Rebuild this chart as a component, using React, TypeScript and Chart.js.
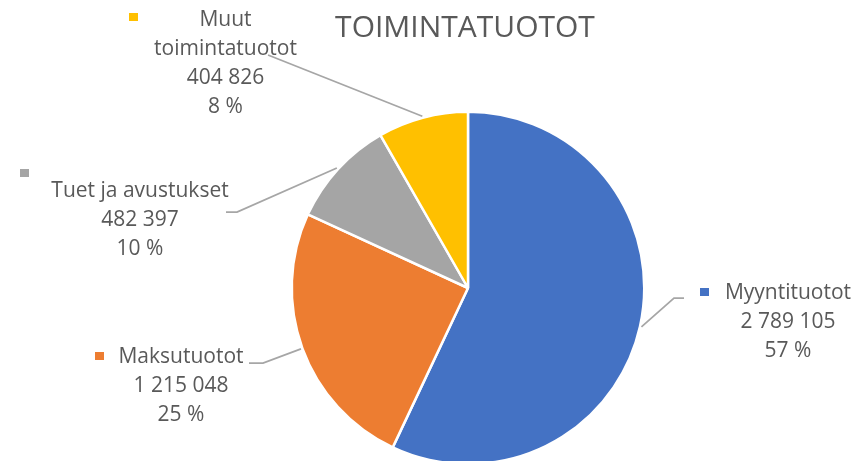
import React, { useEffect, useRef } from "react";
import { Chart, registerables } from "chart.js";

Chart.register(...registerables);

const TITLE = "TOIMINTATUOTOT";
const categories = ["Myyntituotot", "Maksutuotot", "Tuet ja avustukset", "Muut toimintatuotot"];
const values = [2789105, 1215048, 482397, 404826];
const colors = ["#4472C4", "#ED7D31", "#A5A5A5", "#FFC000"];

// label layout, offsets from pie centre (px)
const labelLayout = [
  { tx: 320, ty: 11, kx: 232, ky: 0, ex: 206, ey: 10, hx: 216, wrap: 400 },
  { tx: -287, ty: 75, kx: -373, ky: 64, ex: -205, ey: 75, hx: -219, wrap: 400 },
  { tx: -328, ty: -91, kx: -448, ky: -119, ex: -231, ey: -76, hx: -242, wrap: 400 },
  { tx: -242.5, ty: -262, kx: -339, ky: -275, ex: -200, ey: -233, hx: -200, wrap: 150 },
];

const FONT = '"Open Sans", "DejaVu Sans", sans-serif';
const TEXT_COLOR = "#595959";
const LINE_H = 29;

function fmt(n: number): string {
  return String(n).replace(/\B(?=(\d{3})+(?!\d))/g, " ");
}

function wrapText(ctx: CanvasRenderingContext2D, text: string, maxW: number): string[] {
  const words = text.split(" ");
  const lines: string[] = [];
  let cur = "";
  for (const w of words) {
    const t = cur ? cur + " " + w : w;
    if (cur && ctx.measureText(t).width > maxW) {
      lines.push(cur);
      cur = w;
    } else cur = t;
  }
  if (cur) lines.push(cur);
  return lines;
}

const labelPlugin = {
  id: "excelLabels",
  afterDraw(chart: any) {
    const ctx: CanvasRenderingContext2D = chart.ctx;
    const meta = chart.getDatasetMeta(0);
    const total = values.reduce((a, b) => a + b, 0);
    ctx.save();
    const first = meta.data[0];
    const cx = first.x;
    ctx.fillStyle = TEXT_COLOR;
    ctx.font = `30px ${FONT}`;
    ctx.textAlign = "center";
    ctx.textBaseline = "alphabetic";
    ctx.fillText(TITLE, cx - 3, 37);

    meta.data.forEach((arc: any, i: number) => {
      const p = arc.getProps(["x", "y", "startAngle", "endAngle", "outerRadius"], true);
      const mid = (p.startAngle + p.endAngle) / 2;
      const r = p.outerRadius + 1.5;
      const sx = p.x + Math.cos(mid) * r;
      const sy = p.y + Math.sin(mid) * r;
      const L = labelLayout[i];
      ctx.strokeStyle = "#A6A6A6";
      ctx.lineWidth = 1.75;
      ctx.beginPath();
      ctx.moveTo(sx, sy);
      ctx.lineTo(p.x + L.ex, p.y + L.ey);
      ctx.lineTo(p.x + L.hx, p.y + L.ey);
      ctx.stroke();
      ctx.fillStyle = colors[i];
      ctx.fillRect(p.x + L.kx, p.y + L.ky, 9, 8);
      ctx.font = `21px ${FONT}`;
      ctx.fillStyle = TEXT_COLOR;
      ctx.textAlign = "center";
      const lines = [
        ...wrapText(ctx, categories[i], L.wrap),
        fmt(values[i]),
        Math.round((values[i] / total) * 100) + " %",
      ];
      lines.forEach((ln, j) => {
        ctx.fillText(ln, p.x + L.tx, p.y + L.ty + j * LINE_H);
      });
    });
    ctx.restore();
  },
};

export default function App() {
  const ref = useRef<HTMLCanvasElement>(null);
  useEffect(() => {
    if (!ref.current) return;
    const chart = new Chart(ref.current, {
      type: "pie",
      data: {
        labels: categories,
        datasets: [
          {
            data: values,
            backgroundColor: colors,
            borderColor: "#ffffff",
            borderWidth: 2.5,
          },
        ],
      },
      options: {
        responsive: false,
        animation: false,
        layout: { padding: { top: 110.5, bottom: 4.5, left: 290.5, right: 211.5 } },
        plugins: {
          legend: { display: false },
          tooltip: { enabled: false },
          title: { display: false },
        },
      },
      plugins: [labelPlugin],
    });
    return () => chart.destroy();
  }, []);
  return (
    <div
      style={{
        position: "fixed",
        left: 0,
        top: 0,
        width: 857,
        height: 461,
        overflow: "hidden",
        background: "#fff",
      }}
    >
      <canvas ref={ref} width={857} height={470} style={{ display: "block" }} />
    </div>
  );
}
